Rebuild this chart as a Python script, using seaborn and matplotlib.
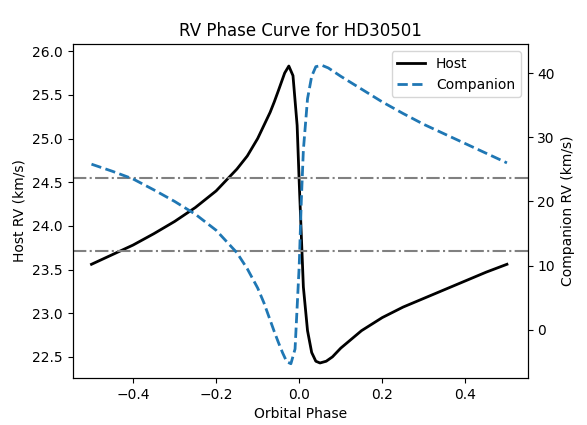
import matplotlib
matplotlib.use("Agg")
import matplotlib.pyplot as plt
import seaborn as sns

# values
host_phase = [-0.5, -0.45, -0.4, -0.35, -0.3, -0.25, -0.2, -0.15, -0.125, -0.1, -0.085,
              -0.07, -0.06, -0.05, -0.035, -0.025, -0.015, -0.005, 0.0, 0.005, 0.01,
              0.02, 0.03, 0.04, 0.05, 0.065, 0.08, 0.1, 0.12, 0.15, 0.2, 0.25, 0.3,
              0.35, 0.4, 0.45, 0.5]
host_rv = [23.56, 23.67, 23.78, 23.91, 24.05, 24.21, 24.4, 24.65, 24.8, 25.0, 25.15,
           25.3, 25.42, 25.55, 25.75, 25.83, 25.72, 25.15, 24.5, 23.9, 23.3,
           22.8, 22.55, 22.45, 22.43, 22.45, 22.5, 22.6, 22.68, 22.8, 22.95, 23.07, 23.17,
           23.27, 23.37, 23.47, 23.56]

comp_phase = [-0.5, -0.45, -0.4, -0.35, -0.3, -0.25, -0.2, -0.15, -0.125, -0.1, -0.085,
              -0.07, -0.06, -0.05, -0.04, -0.03, -0.02, -0.01, 0.0, 0.005, 0.01, 0.02,
              0.03, 0.04, 0.055, 0.07, 0.1, 0.12, 0.15, 0.2, 0.25, 0.3, 0.35, 0.4,
              0.45, 0.5]
comp_rv = [25.8, 24.7, 23.5, 21.8, 20.0, 18.0, 15.5, 12.0, 9.5, 6.5, 4.2,
           1.5, -0.3, -2.0, -3.6, -5.0, -5.3, -3.0, 10.0, 20.0, 28.0, 36.0,
           39.5, 41.0, 41.2, 40.8, 39.5, 38.7, 37.5, 35.5, 33.7, 32.0, 30.5, 29.0,
           27.5, 26.0]

gamma_levels = [24.55, 23.71]

fig, ax = plt.subplots(figsize=(5.87, 4.25), dpi=100)
fig.subplots_adjust(left=0.124, right=0.899, top=0.896, bottom=0.111)
ax2 = ax.twinx()

sns.lineplot(x=host_phase, y=host_rv, ax=ax, color="black", linewidth=2, label="Host", legend=False)
sns.lineplot(x=comp_phase, y=comp_rv, ax=ax2, color="tab:blue", linewidth=2,
             linestyle="--", label="Companion", legend=False)
for g in gamma_levels:
    ax.axhline(g, color="gray", linestyle="-.")

ax.set_xlim(-0.545, 0.55)
ax.set_ylim(22.26, 26.08)
ax2.set_ylim(-7.5, 44.5)
ax.set_xlabel("Orbital Phase")
ax.set_ylabel("Host RV (km/s)")
ax2.set_ylabel("Companion RV (km/s)")
ax.set_title("RV Phase Curve for HD30501")

h1, l1 = ax.get_legend_handles_labels()
h2, l2 = ax2.get_legend_handles_labels()
ax2.legend(h1 + h2, l1 + l2, loc="upper right")

fig.savefig("out.png", dpi=100)
